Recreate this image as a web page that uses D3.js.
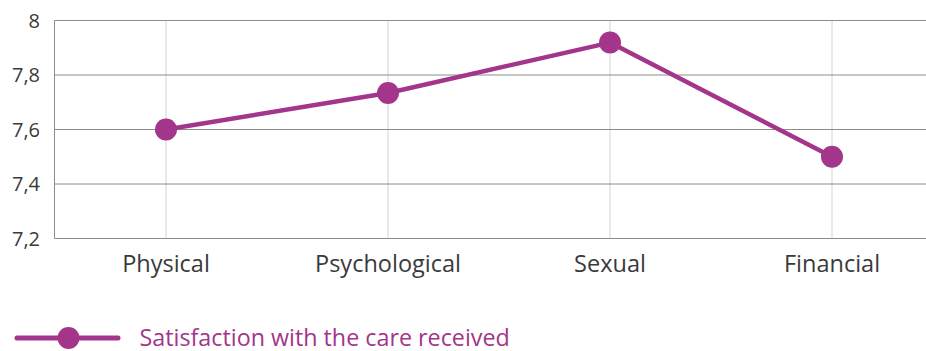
<!DOCTYPE html>
<html>
<head>
<meta charset="utf-8">
<script src="https://cdn.jsdelivr.net/npm/d3@7"></script>
<style>
  html, body { margin: 0; padding: 0; background: #fff; }
  svg { display: block; font-family: "Open Sans", "Noto Sans", sans-serif; }
</style>
</head>
<body>
<svg id="chart" width="926" height="351"></svg>
<script>
// Care satisfaction by type of violence
const categories = ["Physical", "Psychological", "Sexual", "Financial"];
const satisfaction = [7.6, 7.734, 7.919, 7.5];
const yTicks = [7.2, 7.4, 7.6, 7.8, 8];
const seriesName = "Satisfaction with the care received";

const color = "#a3358b";
const svg = d3.select("#chart");
const W = 926;

const margin = { left: 54.5, top: 20.5, bottom: 238.5 };

const x = d3.scalePoint()
  .domain(categories)
  .range([166, 832]);

const y = d3.scaleLinear()
  .domain([7.2, 8])
  .range([margin.bottom, margin.top]);

const fmt = v => d3.format("~g")(v).replace(".", ",");

// vertical grid at each category
svg.append("g")
  .selectAll("line")
  .data(categories)
  .join("line")
  .attr("x1", d => x(d)).attr("x2", d => x(d))
  .attr("y1", y(8)).attr("y2", y(7.2))
  .attr("stroke", "#d4d4d4").attr("stroke-width", 1);

// horizontal grid
svg.append("g")
  .selectAll("line")
  .data(yTicks)
  .join("line")
  .attr("x1", margin.left).attr("x2", W)
  .attr("y1", d => y(d)).attr("y2", d => y(d))
  .attr("stroke", "#8c8c8c").attr("stroke-width", 1);

// left axis line
svg.append("line")
  .attr("x1", margin.left).attr("x2", margin.left)
  .attr("y1", y(8)).attr("y2", y(7.2))
  .attr("stroke", "#8c8c8c").attr("stroke-width", 1);

// y tick labels
svg.append("g")
  .selectAll("text")
  .data(yTicks)
  .join("text")
  .attr("x", 40)
  .attr("y", d => y(d))
  .attr("dy", "0.36em")
  .attr("text-anchor", "end")
  .attr("font-size", 20)
  .attr("fill", "#3a3a3a")
  .text(fmt);

// x category labels
svg.append("g")
  .selectAll("text")
  .data(categories)
  .join("text")
  .attr("x", d => x(d))
  .attr("y", 272)
  .attr("text-anchor", "middle")
  .attr("font-size", 23.5)
  .attr("fill", "#3a3a3a")
  .text(d => d);

const pts = categories.map((c, i) => ({ c, v: satisfaction[i] }));

svg.append("path")
  .datum(pts)
  .attr("fill", "none")
  .attr("stroke", color)
  .attr("stroke-width", 4.5)
  .attr("stroke-linejoin", "round")
  .attr("d", d3.line().x(d => x(d.c)).y(d => y(d.v)));

svg.append("g")
  .selectAll("circle")
  .data(pts)
  .join("circle")
  .attr("cx", d => x(d.c))
  .attr("cy", d => y(d.v))
  .attr("r", 11)
  .attr("fill", color);

// legend
const lg = svg.append("g").attr("transform", "translate(0,338)");
lg.append("line")
  .attr("x1", 17).attr("x2", 118)
  .attr("stroke", color).attr("stroke-width", 5).attr("stroke-linecap", "round");
lg.append("circle").attr("cx", 68.5).attr("r", 11).attr("fill", color);
lg.append("text")
  .attr("x", 139.5).attr("y", 8)
  .attr("font-size", 23.3)
  .attr("fill", color)
  .text(seriesName);
</script>
</body>
</html>
